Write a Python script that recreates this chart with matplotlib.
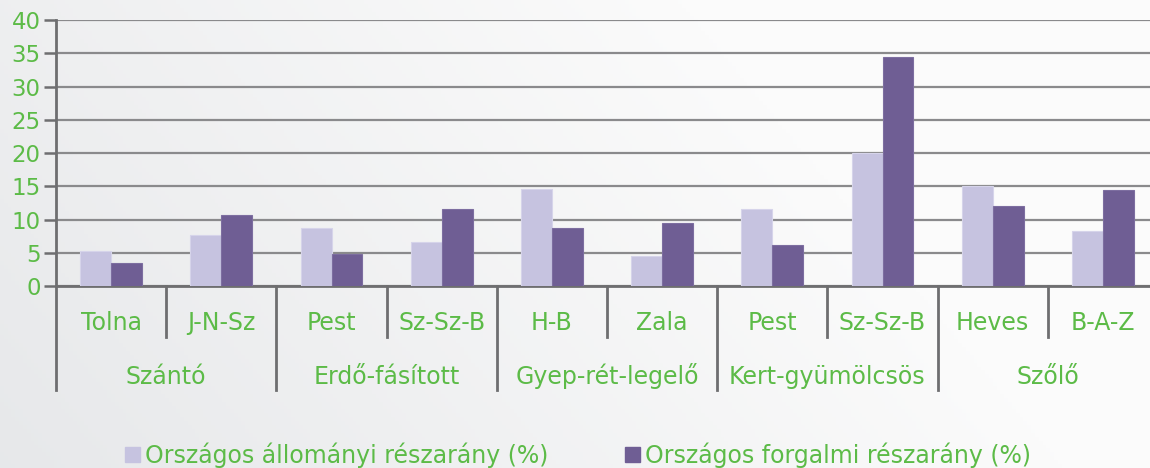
import numpy as np
import matplotlib
matplotlib.use('Agg')
import matplotlib.pyplot as plt
from matplotlib.patches import Rectangle

# data
counties = ['Tolna', 'J-N-Sz', 'Pest', 'Sz-Sz-B', 'H-B', 'Zala', 'Pest', 'Sz-Sz-B', 'Heves', 'B-A-Z']
groups = ['Szántó', 'Erdő-fásított', 'Gyep-rét-legelő', 'Kert-gyümölcsös', 'Szőlő']
allomanyi = [5.2, 7.7, 8.7, 6.6, 14.6, 4.5, 11.6, 20.0, 15.0, 8.2]
forgalmi = [3.4, 10.7, 4.8, 11.6, 8.7, 9.5, 6.1, 34.5, 12.0, 14.5]
leg_labels = ['Országos állományi részarány (%)', 'Országos forgalmi részarány (%)']

green = '#5cbb47'
light = '#c6c3e0'
dark = '#6f5e94'
axcol = '#6e6e70'
gridcol = '#8a8a8c'

plt.rcParams['font.family'] = ['DejaVu Sans']

W, H = 1150, 468
fig = plt.figure(figsize=(W / 100, H / 100), dpi=100)

# background gradient
bg = fig.add_axes([0, 0, 1, 1], zorder=-10)
xx = np.linspace(0, 1, 300)
yy = np.linspace(0, 1, 120)
X, Y = np.meshgrid(xx, yy)
t = np.clip(0.75 * X + 0.25 * (1 - Y), 0, 1)
t = np.clip(t / 0.7, 0, 1)
c0 = np.array([0.905, 0.910, 0.918])
c1 = np.array([0.985, 0.985, 0.985])
img = c0[None, None, :] * (1 - t[..., None]) + c1[None, None, :] * t[..., None]
bg.imshow(img, aspect='auto', extent=[0, 1, 0, 1], origin='upper')
bg.axis('off')

left, right, top, bottom = 56, 1158, 20, 286
ax = fig.add_axes([left / W, 1 - bottom / H, (right - left) / W, (bottom - top) / H])
ax.set_facecolor('none')

n = len(counties)
x = np.arange(n) + 0.5
bw = 0.28
ax.bar(x - bw / 2, allomanyi, bw, color=light, edgecolor='#d6d4ea', linewidth=0.8, zorder=3)
ax.bar(x + bw / 2, forgalmi, bw, color=dark, edgecolor='#7d6ea0', linewidth=0.8, zorder=3)

ax.set_xlim(0, n)
ax.set_ylim(0, 40)
ax.set_yticks(range(0, 41, 5))
ax.yaxis.grid(True, color=gridcol, linewidth=1.6, zorder=1)
ax.set_axisbelow(True)
ax.set_xticks([])
for s in ['top', 'right']:
    ax.spines[s].set_visible(False)
for s in ['left', 'bottom']:
    ax.spines[s].set_color(axcol)
    ax.spines[s].set_linewidth(2)
ax.tick_params(axis='y', length=9, width=1.8, color=axcol, labelcolor=green,
               labelsize=16.5, pad=2)

# category axis lines below the plot
def ay(px):
    return (bottom - px) / (bottom - top)

for i in range(n + 1):
    end = 390 if i % 2 == 0 else 337
    ax.plot([i, i], [0, ay(end)], color=axcol, lw=2,
            transform=ax.get_xaxis_transform(), clip_on=False, zorder=4)

for i, name in enumerate(counties):
    ax.text(i + 0.5, ay(330), name, ha='center', va='baseline', color=green,
            fontsize=17, transform=ax.get_xaxis_transform())
for j, g in enumerate(groups):
    ax.text(2 * j + 1, ay(384), g, ha='center', va='baseline', color=green,
            fontsize=17, transform=ax.get_xaxis_transform())

# legend
for k, (lab, col, x0) in enumerate(zip(leg_labels, [light, dark], [125, 625])):
    fig.patches.append(Rectangle((x0 / W, 1 - 462 / H), 15 / W, 15 / H,
                                 color=col, transform=fig.transFigure))
    fig.text((x0 + 20) / W, 1 - 463 / H, lab, color=green, fontsize=17,
             ha='left', va='baseline')

fig.savefig('out.png', dpi=100)
